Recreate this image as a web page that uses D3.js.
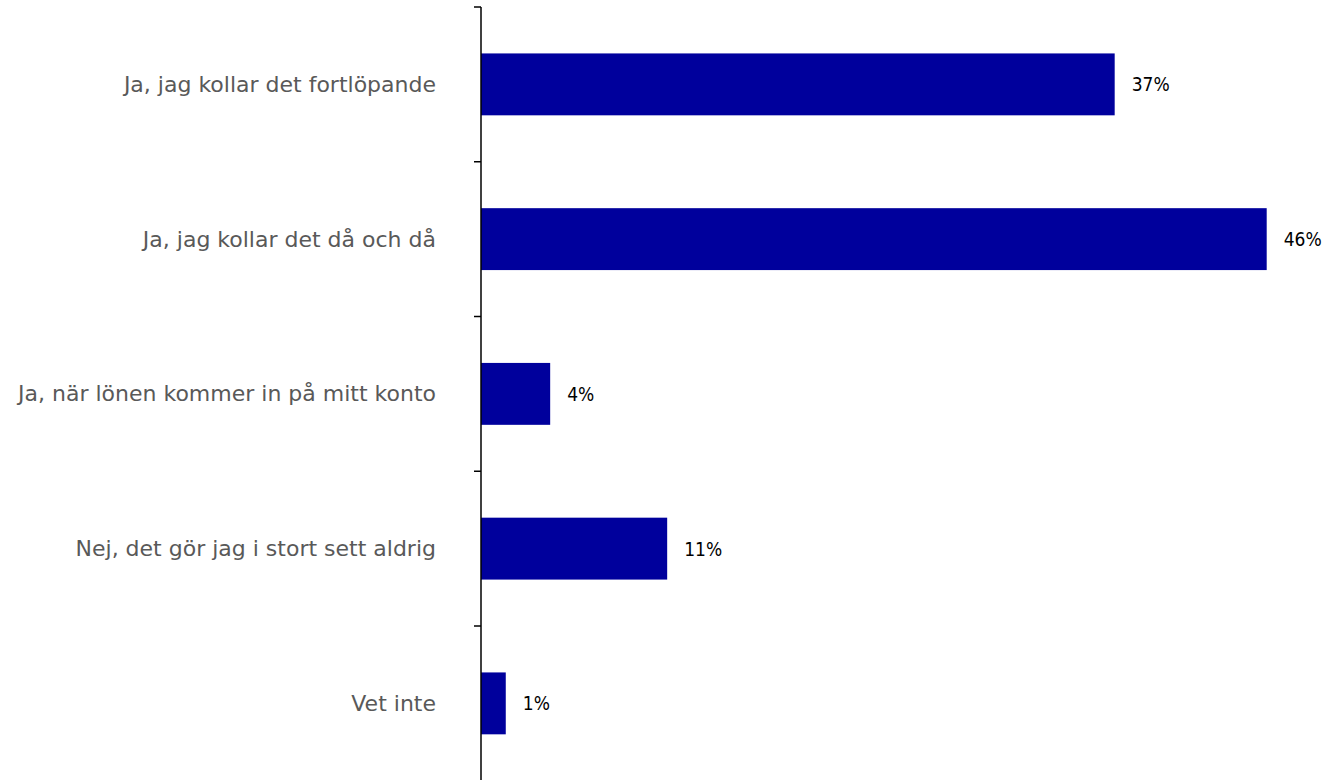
<!DOCTYPE html>
<html><head><meta charset="utf-8">
<script src="https://cdn.jsdelivr.net/npm/d3@7"></script>
<style>html,body{margin:0;padding:0;background:#fff;overflow:hidden}</style>
</head><body>
<svg id="c" width="1323" height="780"></svg>
<script>
const categories = ["Ja, jag kollar det fortlöpande","Ja, jag kollar det då och då","Ja, när lönen kommer in på mitt konto","Nej, det gör jag i stort sett aldrig","Vet inte"];
const values = [37.1, 46.0, 4.05, 10.9, 1.45];
const labels = ["37%","46%","4%","11%","1%"];

const svg = d3.select("#c");
const x0 = 481, y0 = 7, step = 154.75;
const y = d3.scaleBand().domain(categories).range([y0, y0 + step*categories.length]).paddingInner(0.6).paddingOuter(0.3);
const x = d3.scaleLinear().domain([0, 46]).range([x0, 1266.7]);

svg.selectAll("rect.bar").data(categories).join("rect")
  .attr("x", x(0)).attr("y", d => y(d))
  .attr("width", (d,i) => x(values[i]) - x(0)).attr("height", y.bandwidth())
  .attr("fill", "#00009C");

// axis line and ticks (category boundaries)
svg.append("line").attr("x1", x0).attr("x2", x0).attr("y1", y0).attr("y2", 780)
  .attr("stroke", "#000").attr("stroke-width", 1.5);
const bounds = d3.range(categories.length + 1).map(i => y0 + i*step);
svg.selectAll("line.tick").data(bounds).join("line")
  .attr("x1", x0 - 7).attr("x2", x0).attr("y1", d => d).attr("y2", d => d)
  .attr("stroke", "#000").attr("stroke-width", 1.5);

svg.selectAll("text.cat").data(categories).join("text")
  .attr("x", 436).attr("y", d => y(d) + y.bandwidth()/2)
  .attr("text-anchor", "end").attr("dominant-baseline", "central")
  .attr("font-family", "DejaVu Sans").attr("font-size", 22).attr("fill", "#595959")
  .text(d => d);

svg.selectAll("text.val").data(categories).join("text")
  .attr("x", (d,i) => x(values[i]) + 17).attr("y", d => y(d) + y.bandwidth()/2)
  .attr("dominant-baseline", "central")
  .attr("font-family", "DejaVu Sans Condensed").attr("font-size", 19).attr("fill", "#000")
  .text((d,i) => labels[i]);
</script>
</body></html>
